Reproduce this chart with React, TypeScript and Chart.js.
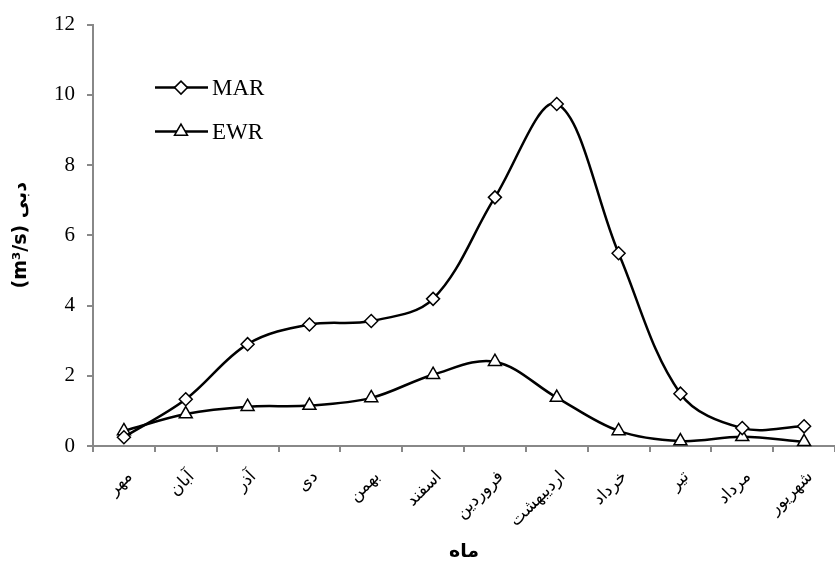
import React, { useEffect, useRef } from "react";
import { Chart, registerables } from "chart.js";
import { drawPoint } from "chart.js/helpers";

Chart.register(...registerables);

const months = ["مهر", "آبان", "آذر", "دی", "بهمن", "اسفند", "فروردین", "اردیبهشت", "خرداد", "تیر", "مرداد", "شهریور"];
const marValues = [0.25, 1.33, 2.9, 3.46, 3.56, 4.19, 7.08, 9.74, 5.49, 1.49, 0.51, 0.56];
const ewrValues = [0.43, 0.91, 1.12, 1.15, 1.37, 2.03, 2.4, 1.38, 0.43, 0.14, 0.26, 0.12];
const seriesNames = ["MAR", "EWR"];
const yTitle = "(m³/s) دبی";
const xTitle = "ماه";

const insideLegend = {
  id: "insideLegend",
  afterDraw(chart: any) {
    const { ctx, chartArea } = chart;
    ctx.save();
    chart.data.datasets.forEach((ds: any, i: number) => {
      const y = chartArea.top + 63 + i * 44;
      const x0 = chartArea.left + 62;
      ctx.strokeStyle = ds.borderColor;
      ctx.lineWidth = ds.borderWidth;
      ctx.beginPath();
      ctx.moveTo(x0, y);
      ctx.lineTo(x0 + 53, y);
      ctx.stroke();
      ctx.fillStyle = ds.pointBackgroundColor;
      ctx.strokeStyle = ds.pointBorderColor;
      ctx.lineWidth = ds.pointBorderWidth;
      drawPoint(ctx, { pointStyle: ds.pointStyle, radius: ds.pointRadius, borderWidth: ds.pointBorderWidth, rotation: 0 } as any, x0 + 26, y);
      ctx.fillStyle = "#000";
      ctx.font = "23px 'Liberation Serif'";
      ctx.textBaseline = "middle";
      ctx.textAlign = "left";
      ctx.fillText(ds.label, x0 + 57, y + 1);
    });
    ctx.restore();
  },
};

export default function App() {
  const ref = useRef<HTMLCanvasElement>(null);
  useEffect(() => {
    const canvas = ref.current!;
    const chart = new Chart(canvas, {
      type: "line",
      data: {
        labels: months,
        datasets: [
          {
            label: seriesNames[0],
            data: marValues,
            borderColor: "#000",
            borderWidth: 2.5,
            tension: 0.35,
            pointStyle: "rectRot",
            pointRadius: 6.5,
            pointBorderWidth: 1.5,
            pointBackgroundColor: "#fff",
            pointBorderColor: "#000",
            clip: false,
          },
          {
            label: seriesNames[1],
            data: ewrValues,
            borderColor: "#000",
            borderWidth: 2.5,
            tension: 0.35,
            pointStyle: "triangle",
            pointRadius: 7.5,
            pointBorderWidth: 1.5,
            pointBackgroundColor: "#fff",
            pointBorderColor: "#000",
            clip: false,
          },
        ],
      },
      options: {
        animation: false,
        responsive: false,
        layout: { padding: { top: 24, left: 0, right: 0, bottom: 0 } },
        plugins: { legend: { display: false }, tooltip: { enabled: false } },
        scales: {
          x: {
            type: "category",
            offset: true,
            grid: { offset: true, drawOnChartArea: false, drawTicks: true, tickLength: 6, color: "#888", lineWidth: 2 },
            border: { color: "#888", width: 2 },
            ticks: { minRotation: 45, maxRotation: 45, color: "#000", padding: 15, labelOffset: 6, font: { family: "'DejaVu Sans'", size: 17 } },
            title: { display: true, text: xTitle, color: "#000", font: { family: "'DejaVu Sans'", size: 19, weight: "bold" }, padding: { top: 0, bottom: 4 } },
            afterFit: (s: any) => { s.height = 121; },
          },
          y: {
            min: 0,
            max: 12,
            ticks: { stepSize: 2, color: "#000", padding: 12, font: { family: "'Liberation Serif'", size: 21 } },
            grid: { drawOnChartArea: false, drawTicks: true, tickLength: 6, color: "#888", lineWidth: 2 },
            border: { color: "#888", width: 2 },
            title: { display: true, text: yTitle, color: "#000", font: { family: "'DejaVu Sans'", size: 19, weight: "bold" }, padding: { top: 10, bottom: 0 } },
            afterFit: (s: any) => { s.width = 93; },
          },
        },
      },
      plugins: [insideLegend],
    });
    return () => chart.destroy();
  }, []);
  return (
    <div style={{ position: "fixed", left: 0, top: 0, width: 835, height: 567, overflow: "hidden", background: "#fff" }}>
      <canvas ref={ref} width={844} height={567} style={{ display: "block", width: 844, height: 567 }} />
    </div>
  );
}
